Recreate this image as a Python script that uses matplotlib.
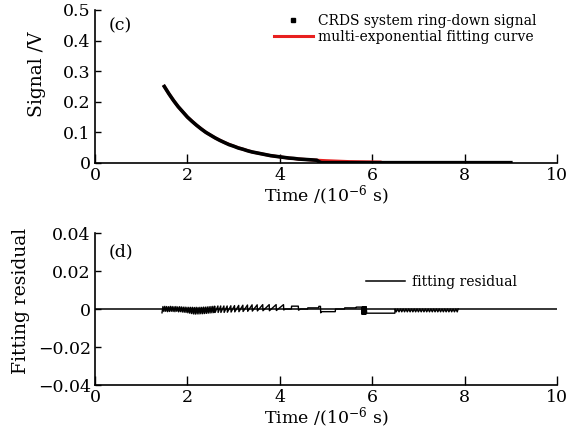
import matplotlib
matplotlib.use('Agg')
import matplotlib.pyplot as plt
from matplotlib.lines import Line2D

plt.rcParams['font.family'] = ['DejaVu Serif']
plt.rcParams['mathtext.fontset'] = 'dejavuserif'

# ---- 数据 ----
# CRDS 衰荡信号 (时间 10^-6 s, 信号 V)
sig_t = [1.5, 1.6, 1.7, 1.8, 1.9, 2.0, 2.1, 2.2, 2.3, 2.4, 2.5, 2.6, 2.7, 2.8, 2.9,
         3.0, 3.1, 3.2, 3.3, 3.4, 3.5, 3.6, 3.7, 3.8, 3.9, 4.0, 4.1, 4.2, 4.3, 4.4,
         4.5, 4.6, 4.7, 4.8, 4.85, 4.9, 9.0]
sig_v = [0.250, 0.226, 0.204, 0.184, 0.167, 0.150, 0.136, 0.123, 0.111, 0.100,
         0.091, 0.082, 0.074, 0.067, 0.060, 0.055, 0.049, 0.045, 0.040, 0.036,
         0.033, 0.030, 0.027, 0.024, 0.022, 0.020, 0.018, 0.016, 0.015, 0.013,
         0.012, 0.011, 0.010, 0.009, 0.004, 0.001, 0.001]

# 多指数拟合曲线
fit_t = [1.5, 1.6, 1.7, 1.8, 1.9, 2.0, 2.2, 2.4, 2.6, 2.8, 3.0, 3.2, 3.4, 3.6,
         3.8, 4.0, 4.2, 4.4, 4.6, 4.8, 5.0, 5.5, 6.17]
fit_v = [0.250, 0.226, 0.204, 0.184, 0.167, 0.150, 0.123, 0.100, 0.082, 0.067,
         0.055, 0.045, 0.036, 0.030, 0.024, 0.020, 0.016, 0.013, 0.011, 0.009,
         0.0075, 0.0045, 0.003]

# 拟合残差
res_t = [1.45, 1.47, 1.49, 1.51, 1.53, 1.55, 1.57, 1.59, 1.61, 1.63, 1.65, 1.67,
         1.69, 1.71, 1.73, 1.75, 1.77, 1.79, 1.81, 1.83, 1.85, 1.87, 1.89, 1.91,
         1.93, 1.95, 1.97, 1.99, 2.01, 2.03, 2.05, 2.07, 2.09,
         2.11, 2.13, 2.15, 2.17, 2.19, 2.21, 2.23, 2.25, 2.27, 2.29, 2.31, 2.33,
         2.35, 2.37, 2.39, 2.41, 2.43, 2.45, 2.47, 2.49, 2.51, 2.53, 2.55, 2.57, 2.59,
         2.60, 2.66, 2.665, 2.72, 2.725, 2.79, 2.795, 2.86, 2.865, 2.94, 2.945,
         3.02, 3.025, 3.11, 3.115, 3.20, 3.205, 3.30, 3.305, 3.40, 3.405, 3.51, 3.515,
         3.63, 3.635, 3.77, 3.775, 3.92, 3.925, 4.08, 4.085, 4.12, 4.25, 4.255,
         4.40, 4.405, 4.45, 4.60, 4.605, 4.84, 4.845, 4.88, 4.885, 4.90, 5.20, 5.205,
         5.40, 5.405, 5.65, 5.655, 5.77,
         5.78, 5.79, 5.80, 5.81, 5.82, 5.83, 5.84, 5.85, 5.86, 5.87, 5.88, 6.49, 6.495,
         6.52, 6.55, 6.58, 6.61, 6.64, 6.67, 6.70, 6.73, 6.76, 6.79, 6.82, 6.85,
         6.88, 6.91, 6.94, 6.97, 7.00, 7.03, 7.06, 7.09, 7.12, 7.15, 7.18, 7.21,
         7.24, 7.27, 7.30, 7.33, 7.36, 7.39, 7.42, 7.45, 7.48, 7.51, 7.54, 7.57,
         7.60, 7.63, 7.66, 7.69, 7.72, 7.75, 7.78, 7.81, 7.84, 7.86]
res_v = [-0.0020, 0.0013, -0.0013, 0.0014, -0.0012, 0.0013, -0.0014, 0.0012,
         -0.0013, 0.0014, -0.0012, 0.0013, -0.0013, 0.0012, -0.0014, 0.0013,
         -0.0012, 0.0011, -0.0015, 0.0012, -0.0014, 0.0011, -0.0016, 0.0010,
         -0.0017, 0.0010, -0.0018, 0.0009, -0.0020, 0.0009, -0.0022, 0.0009, -0.0024,
         0.0009, -0.0026, 0.0008, -0.0027, 0.0009, -0.0026, 0.0008, -0.0026,
         0.0009, -0.0025, 0.0009, -0.0025, 0.0010, -0.0024, 0.0010, -0.0023,
         0.0011, -0.0022, 0.0012, -0.0021, 0.0013, -0.0020, 0.0014, -0.0019, 0.0015,
         -0.0018, 0.0016, -0.0018, 0.0016, -0.0018, 0.0016, -0.0018, 0.0016,
         -0.0017, 0.0017, -0.0016, 0.0018, -0.0015, 0.0019, -0.0014, 0.0020,
         -0.0013, 0.0021, -0.0012, 0.0022, -0.0011, 0.0022, -0.0010, 0.0023,
         -0.0009, 0.0023, -0.0009, 0.0023, -0.0008, 0.0023, -0.0005, 0.0, 0.0,
         0.0015, 0.0015, -0.0006, 0.0, 0.0, 0.0006, 0.0006, 0.0014, 0.0014,
         -0.0020, -0.0014, -0.0014, 0.0, 0.0, 0.0006, 0.0006, 0.0010, 0.0010,
         -0.0028, 0.0012, -0.0028, 0.0012, -0.0028, 0.0012, -0.0028, 0.0012,
         -0.0028, 0.0012, -0.0022, -0.0022, 0.0,
         -0.0015, 0.0, -0.0015, 0.0, -0.0015, 0.0, -0.0015, 0.0, -0.0015, 0.0,
         -0.0015, 0.0, -0.0015, 0.0, -0.0015, 0.0, -0.0015, 0.0, -0.0015, 0.0,
         -0.0015, 0.0, -0.0015, 0.0, -0.0015, 0.0, -0.0015, 0.0, -0.0015, 0.0,
         -0.0015, 0.0, -0.0015, 0.0, -0.0015, 0.0, -0.0015, 0.0, -0.0015, 0.0,
         -0.0015, 0.0, -0.0015, 0.0, -0.0015, 0.0]

x_ticks = [0, 2, 4, 6, 8, 10]
sig_ticks = [0, 0.1, 0.2, 0.3, 0.4, 0.5]
sig_ticklabels = ['0', '0.1', '0.2', '0.3', '0.4', '0.5']
res_ticks = [-0.04, -0.02, 0, 0.02, 0.04]
res_ticklabels = ['\u22120.04', '\u22120.02', '0', '0.02', '0.04']

fig = plt.figure(figsize=(5.84, 4.38), dpi=100)
ax1 = fig.add_axes([0.1627, 0.6279, 0.7911, 0.3493])
ax2 = fig.add_axes([0.1627, 0.1210, 0.7911, 0.3470])


def style_axes(ax):
    for s in ['top', 'right']:
        ax.spines[s].set_visible(False)
    for s in ['left', 'bottom']:
        ax.spines[s].set_linewidth(1.2)
    ax.tick_params(direction='in', width=1.0, labelsize=12.5, pad=3)
    ax.tick_params(axis='x', length=6.5)
    ax.tick_params(axis='y', length=4.5)
    ax.set_xlim(0, 10)
    ax.set_xticks(x_ticks)


# (c) 信号与拟合
style_axes(ax1)
ax1.plot(fit_t, fit_v, color='#e8201f', lw=2.2, zorder=2)
ax1.plot(sig_t, sig_v, color='black', lw=2.6, zorder=3)
ax1.set_ylim(0, 0.5)
ax1.set_yticks(sig_ticks)
ax1.set_yticklabels(sig_ticklabels)
ax1.set_xlabel(r'Time /(10$^{-6}$ s)', fontsize=12.5, labelpad=0)
ax1.set_ylabel('Signal /V', fontsize=13.5)
ax1.yaxis.set_label_coords(-0.106, 0.58)
ax1.text(0.03, 0.895, '(c)', transform=ax1.transAxes, fontsize=12.5, va='center')
h_sig = Line2D([], [], color='black', marker='s', ms=2.2, ls='none')
h_fit = Line2D([], [], color='#e8201f', lw=2.2)
ax1.legend([h_sig, h_fit], ['CRDS system ring-down signal', 'multi-exponential fitting curve'],
           loc='center left', bbox_to_anchor=(0.387, 0.876), frameon=False, fontsize=10,
           handlelength=2.8, handletextpad=0.36, labelspacing=0.15,
           borderpad=0, borderaxespad=0)

# (d) 拟合残差
style_axes(ax2)
ax2.axhline(0, color='black', lw=1.1, zorder=1)
ax2.plot(res_t, res_v, color='black', lw=1.0, zorder=2)
ax2.set_ylim(-0.04, 0.04)
ax2.set_yticks(res_ticks)
ax2.set_yticklabels(res_ticklabels)
ax2.set_xlabel(r'Time /(10$^{-6}$ s)', fontsize=12.5, labelpad=0)
ax2.set_ylabel('Fitting residual', fontsize=13.5)
ax2.yaxis.set_label_coords(-0.14, 0.55)
ax2.text(0.03, 0.875, '(d)', transform=ax2.transAxes, fontsize=12.5, va='center')
h_res = Line2D([], [], color='black', lw=1.1)
ax2.legend([h_res], ['fitting residual'], loc='center left', bbox_to_anchor=(0.587, 0.678),
           frameon=False, fontsize=10, handlelength=2.8, handletextpad=0.5,
           borderpad=0, borderaxespad=0)

fig.savefig('out.png', dpi=100)
